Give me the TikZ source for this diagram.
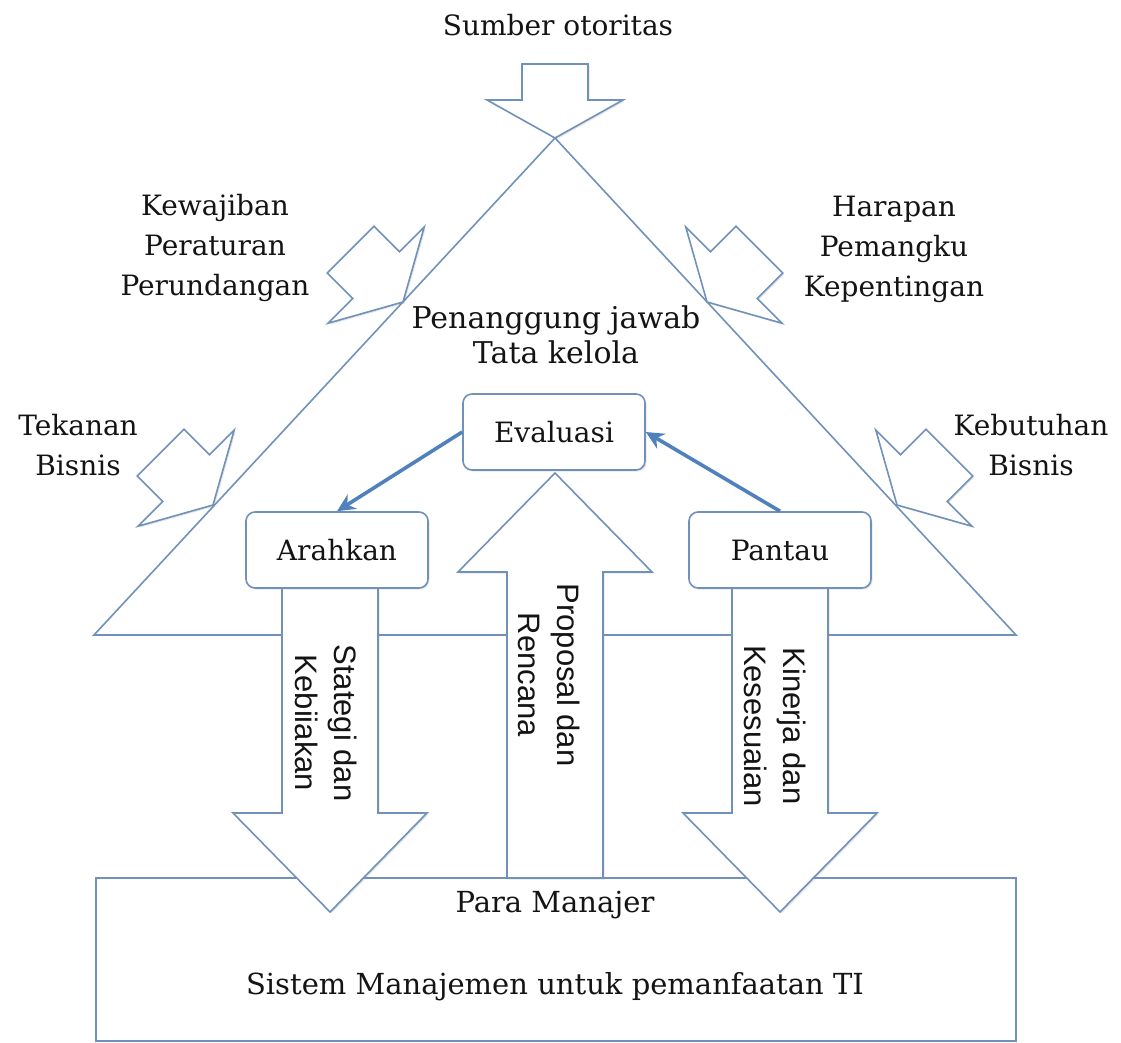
\documentclass[tikz,border=0pt]{standalone}
\usepackage{fontspec}
\setmainfont{DejaVu Serif}
\newfontfamily\rotfont{Liberation Sans}
\usetikzlibrary{arrows.meta,shadows}
\definecolor{edgeblue}{RGB}{112,146,186}
\definecolor{linkblue}{RGB}{79,129,189}
\definecolor{inkgray}{RGB}{20,20,20}
\newcommand{\sidearrow}[2]{%
  \draw[shp, shift={#1}, rotate=#2] (0,0) -- (-38,68) -- (-38,33) -- (-74,33)
    -- (-74,-33) -- (-38,-33) -- (-38,-68) -- cycle;}
\newcommand{\fatarrow}[3]{%
  \draw[shp, shift={#1}, rotate=#2] (0,0) -- (-99,97) -- (-99,48) -- (-#3,48)
    -- (-#3,-48) -- (-99,-48) -- (-99,-97) -- cycle;}
\tikzset{
  tri/.style={draw=edgeblue, line width=1.6pt, line join=miter},
  shp/.style={draw=edgeblue, line width=1.6pt, fill=white, line join=miter,
    drop shadow={shadow xshift=1.5pt, shadow yshift=-1.5pt, opacity=0.2}},
  procbox/.style={shp, rounded corners=9pt, minimum width=182pt, minimum height=76pt,
    text=inkgray, font=\fontsize{28}{34}\selectfont},
  lbl/.style={align=center, text=inkgray, font=\fontsize{28}{40}\selectfont},
  rlbl/.style={align=center, rotate=-90, text=inkgray, font=\rotfont\fontsize{31}{39}\selectfont},
  flow/.style={-{Stealth[length=18pt,width=17pt]}, draw=linkblue, line width=3.6pt},
}
\begin{document}
\begin{tikzpicture}[x=1pt,y=-1pt]
\useasboundingbox (0,0) rectangle (1121,1043);
% governance triangle
\draw[tri] (555,138) -- (94,635) -- (1016,635) -- cycle;
\node[shp, inner sep=0pt, minimum width=920pt, minimum height=163pt, anchor=north west]
  (mgmtbox) at (95,877) {};
% incoming influences
\sidearrow{(555,138)}{-90}
\sidearrow{(403,302)}{-45}
\sidearrow{(213,505)}{-45}
\sidearrow{(707,302)}{-135}
\sidearrow{(897,505)}{-135}
% big flows
\fatarrow{(330,912)}{-90}{324}
\fatarrow{(555,473)}{90}{405}
\fatarrow{(780,912)}{-90}{324}
% process boxes
\node[procbox] (evalbox) at (554,432) {Evaluasi};
\node[procbox] (arahbox) at (337,550) {Arahkan};
\node[procbox] (pantaubox) at (780,550) {Pantau};
\draw[flow] (evalbox.west) -- (arahbox.north);
\draw[flow] (pantaubox.north) -- (evalbox.east);
% labels
\node[lbl] (srcauth) at (558,25) {Sumber otoritas};
\node[lbl] (obligation) at (215,248) {Kewajiban\\Peraturan\\Perundangan};
\node[lbl] (stakeholder) at (894,249) {Harapan\\Pemangku\\Kepentingan};
\node[lbl] (pressure) at (78,445) {Tekanan\\Bisnis};
\node[lbl] (needs) at (1031,445) {Kebutuhan\\Bisnis};
\node[lbl, font=\fontsize{30}{35}\selectfont] (govbody) at (556,335) {Penanggung jawab\\Tata kelola};
\node[lbl, font=\fontsize{29}{35}\selectfont] (mgrs) at (555,905) {Para Manajer};
\node[lbl, font=\fontsize{29}{35}\selectfont] (mgmtsys) at (555,987) {Sistem Manajemen untuk pemanfaatan TI};
\node[rlbl] (strat) at (326,723) {Stategi dan\\Kebiiakan};
\node[rlbl] (prop) at (549,675) {Proposal dan\\Rencana};
\node[rlbl] (perf) at (775,726) {Kinerja dan\\Kesesuaian};
\end{tikzpicture}
\end{document}
